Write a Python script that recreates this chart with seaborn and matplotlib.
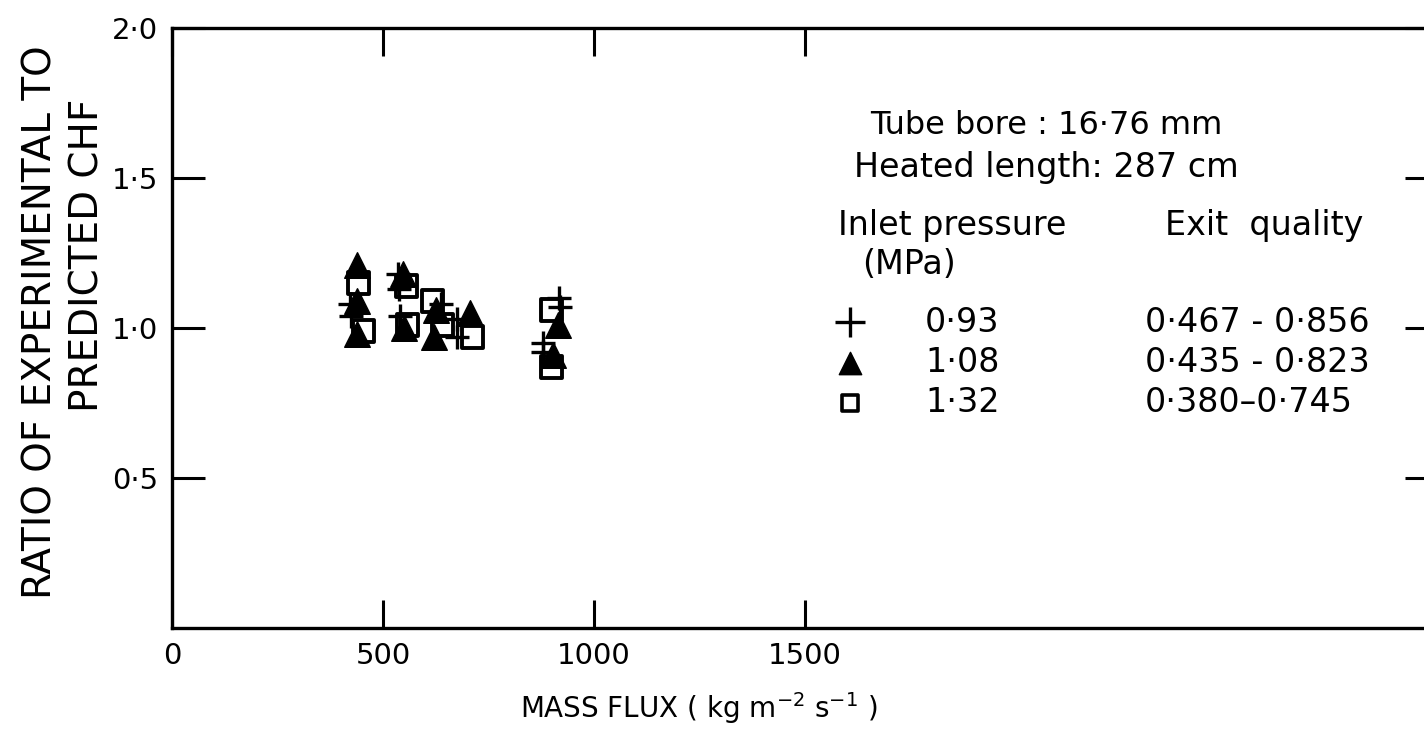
import matplotlib
matplotlib.use("Agg")
import matplotlib.pyplot as plt
import seaborn as sns

# Mass flux (kg m-2 s-1) and CHF ratio for each inlet pressure
flux_093 = [422, 424, 536, 538, 540, 637, 675, 676, 879, 880, 918, 919]
ratio_093 = [1.08, 1.04, 1.18, 1.13, 1.04, 1.08, 1.03, 0.97, 0.95, 0.92, 1.10, 1.07]

flux_108 = [438, 438, 438, 547, 549, 621, 625, 706, 915, 903]
ratio_108 = [1.21, 1.09, 0.98, 1.18, 1.00, 0.97, 1.06, 1.05, 1.01, 0.91]

flux_132 = [443, 453, 555, 557, 618, 642, 711, 900, 900]
ratio_132 = [1.15, 0.99, 1.14, 1.01, 1.09, 1.01, 0.97, 1.06, 0.87]

x_ticks = [0, 500, 1000, 1500]
x_tick_labels = ["0", "500", "1000", "1500"]
y_ticks = [0.5, 1.0, 1.5, 2.0]
y_tick_labels = ["0·5", "1·0", "1·5", "2·0"]

pressures = ["0·93", "1·08", "1·32"]
qualities = ["0·467 - 0·856", "0·435 - 0·823", "0·380–0·745"]

sns.set_theme(style="white")
plt.rcParams["font.family"] = ["DejaVu Sans"]
plt.rcParams.update({"text.color": "black", "axes.labelcolor": "black",
                     "xtick.color": "black", "ytick.color": "black"})

W, H = 1424, 732
fig = plt.figure(figsize=(W / 100, H / 100), dpi=100)
ax = fig.add_axes([172 / W, 104 / H, 1266 / W, 600 / H])

sns.scatterplot(x=flux_093, y=ratio_093, marker="+", s=280, color="black",
                linewidth=2.4, ax=ax, zorder=3)
sns.scatterplot(x=flux_108, y=ratio_108, marker="^", s=340, color="black",
                edgecolor="black", linewidth=1, ax=ax, zorder=3)
sns.scatterplot(x=flux_132, y=ratio_132, marker="s", s=230, facecolor="none",
                edgecolor="black", linewidth=2.8, ax=ax, zorder=4)

ax.set_xlim(0, 3000)
ax.set_ylim(0, 2.0)
ax.set_xticks(x_ticks)
ax.set_xticklabels(x_tick_labels)
ax.set_yticks(y_ticks)
ax.set_yticklabels(y_tick_labels)
ax.tick_params(axis="x", direction="in", length=20, width=2.2, top=True,
               bottom=True, labelsize=21, pad=10)
ax.tick_params(axis="y", direction="in", length=24, width=2.2, left=True,
               right=True, labelsize=21, pad=10)
for sp in ax.spines.values():
    sp.set_linewidth(2.4)
    sp.set_color("black")

ax.set_xlabel(r"MASS FLUX ( kg m$^{-2}$ s$^{-1}$ )", fontsize=20)
ax.xaxis.set_label_coords((699 - 172) / 1266, (628 - 690) / 600)
ax.set_ylabel("")

# rotated two-line axis title
fig.text(41 / W, 1 - 322 / H, "RATIO OF EXPERIMENTAL TO", rotation=90,
         ha="center", va="center", fontsize=28)
fig.text(88 / W, 1 - 255 / H, "PREDICTED CHF", rotation=90,
         ha="center", va="center", fontsize=28)


def ax_xy(px, py):
    return (px - 172) / 1266, (628 - py) / 600


fs = 24
x0, y0 = ax_xy(1046, 125)
ax.text(x0, y0, "Tube bore : 16·76 mm", transform=ax.transAxes,
        ha="center", va="center", fontsize=23)
x0, y0 = ax_xy(1046, 167)
ax.text(x0, y0, "Heated length: 287 cm", transform=ax.transAxes,
        ha="center", va="center", fontsize=fs)
x0, y0 = ax_xy(838, 225)
ax.text(x0, y0, "Inlet pressure", transform=ax.transAxes,
        ha="left", va="center", fontsize=fs)
x0, y0 = ax_xy(1165, 225)
ax.text(x0, y0, "Exit  quality", transform=ax.transAxes,
        ha="left", va="center", fontsize=fs)
x0, y0 = ax_xy(862, 265)
ax.text(x0, y0, "(MPa)", transform=ax.transAxes,
        ha="left", va="center", fontsize=fs)

row_y = [322, 363, 403]
key_styles = [
    dict(marker="+", s=480, color="black", linewidth=2.4),
    dict(marker="^", s=260, color="black", edgecolor="black", linewidth=1),
    dict(marker="s", s=130, facecolor="none", edgecolor="black", linewidth=2.6),
]
for py, p, q, st in zip(row_y, pressures, qualities, key_styles):
    xs, ys = ax_xy(850, py)
    ax.scatter([xs], [ys], transform=ax.transAxes, clip_on=False, **st)
    xp, _ = ax_xy(925, py)
    ax.text(xp, ys, p, transform=ax.transAxes, ha="left", va="center",
            fontsize=fs)
    xq, _ = ax_xy(1145, py)
    ax.text(xq, ys, q, transform=ax.transAxes, ha="left", va="center",
            fontsize=fs)

fig.savefig("out.png", dpi=100, facecolor="white")
